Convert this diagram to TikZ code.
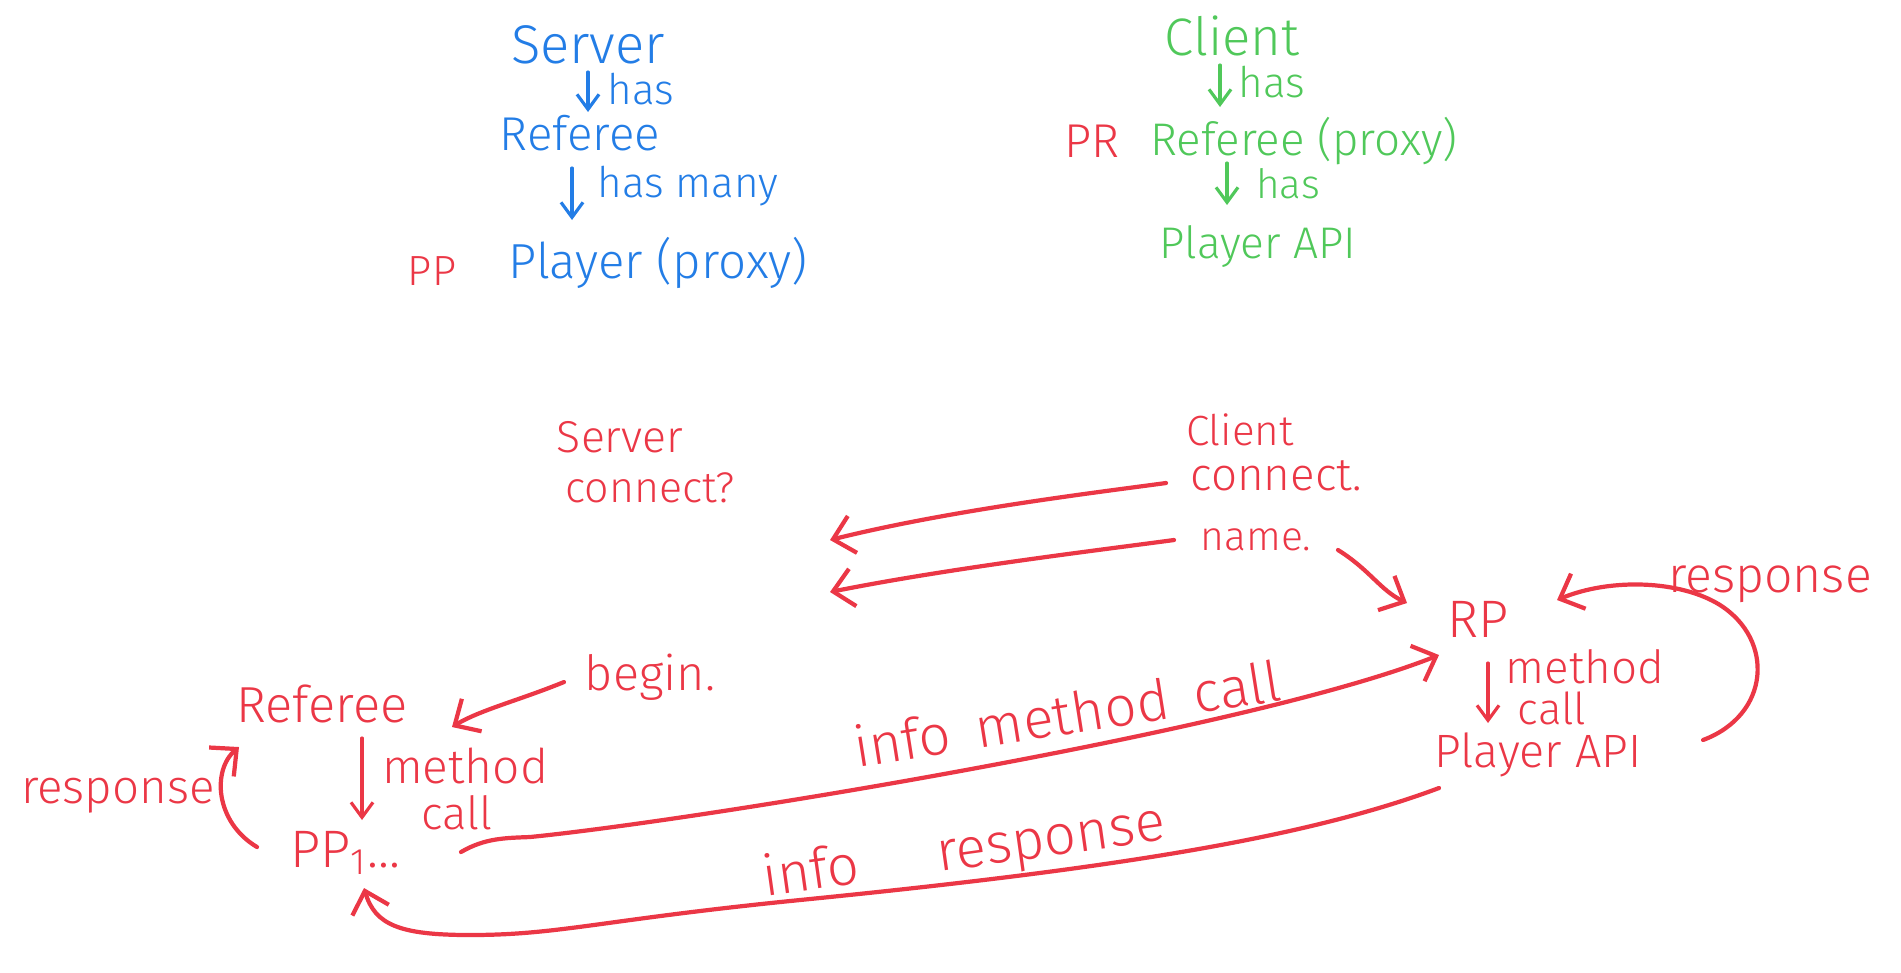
\documentclass[tikz,border=0pt]{standalone}
\usepackage{fontspec}
\setmainfont{Fira Sans Light}
\usetikzlibrary{arrows.meta}
\definecolor{cblue}{RGB}{35,125,230}
\definecolor{cgreen}{RGB}{80,200,90}
\definecolor{cred}{RGB}{235,55,70}
\newcommand{\fsz}[1]{\fontsize{#1}{#1}\selectfont}
\tikzset{
  txt/.style={inner sep=0pt, anchor=base, font=\fsz{#1}},
  bl/.style={txt=#1, text=cblue},
  gr/.style={txt=#1, text=cgreen},
  rd/.style={txt=#1, text=cred},
  smallarr/.style={line width=0.9pt, line cap=round, -{Straight Barb[length=1.5mm,width=2.2mm]}},
  bigarr/.style={draw=cred, line width=1.2pt, line cap=round, -{Straight Barb[length=2mm,width=3.8mm]}},
}
\begin{document}
\begin{tikzpicture}[x=0.01cm,y=-0.01cm]
\useasboundingbox (0,0) rectangle (1901,972);
% blue column
\node[bl=15.5] (bsrv) at (588,63) {Server};
\node[bl=12] (bhas1) at (641,104) {has};
\node[bl=13.5] (bref) at (580,150) {Referee};
\node[bl=12] (bhas2) at (688,197) {has many};
\node[rd=12] (pp) at (432,285) {PP};
\node[bl=14] (bply) at (658,278) {Player (proxy)};
% green column
\node[gr=15] (gcli) at (1232,55) {Client};
\node[gr=12] (ghas1) at (1272,97) {has};
\node[rd=13.5] (pr) at (1092,157) {PR};
\node[gr=13] (gref) at (1304,155) {Referee (proxy)};
\node[gr=11.5] (ghas2) at (1288,198) {has};
\node[gr=12.6] (gapi) at (1258,258) {Player API};
% red part
\node[rd=12.7] (rsrv) at (620,452) {Server};
\node[rd=12.2] (rscon) at (650,502) {connect?};
\node[rd=12] (rcli) at (1240,445) {Client};
\node[rd=13] (rccon) at (1276,490) {connect.};
\node[rd=11.6] (rname) at (1256,550) {name.};
\node[rd=15] (rp) at (1478,637) {RP};
\node[rd=14.2] (rresp2) at (1770,592) {response};
\node[rd=13] (rmeth2) at (1585,683) {method};
\node[rd=12.5] (rcall2) at (1552,724) {call};
\node[rd=13.3] (rapi) at (1538,767) {Player API};
\node[rd=13.8] (rbeg) at (650,690) {begin.};
\node[rd=14.4] (rref) at (322,722) {Referee};
\node[rd=13.6] (rmeth1) at (465,783) {method};
\node[rd=13] (rcall1) at (457,829) {call};
\node[rd=13.5] (rresp1) at (118,803) {response};
\node[rd=15] (pp1) at (345,867) {PP\textsubscript{1}...};
\node[rd=16, rotate=9] (limc) at (1070,734) {info\hspace{0.45em}method\hspace{0.45em}call};
\node[rd=16, rotate=8] (lir) at (966,868) {info\hspace{1.4em}response};
\coordinate (a1e) at (830,540);
\coordinate (a2e) at (830,592);
% small vertical arrows
\draw[smallarr, cblue] ([shift={(0,9)}]bsrv.base) -- ([shift={(8,-38)}]bref.base);
\draw[smallarr, cblue] ([shift={(-8,18)}]bref.base) -- ([shift={(-86,-58)}]bply.base);
\draw[smallarr, cgreen] ([shift={(-12,10)}]gcli.base) -- ([shift={(-84,-48)}]gref.base);
\draw[smallarr, cgreen] ([shift={(-77,8)}]gref.base) -- ([shift={(-31,-53)}]gapi.base);
\draw[smallarr, cred] ([shift={(40,16)}]rref.base) -- ([shift={(17,-47)}]pp1.base);
\draw[smallarr, cred] ([shift={(10,26)}]rp.base) -- ([shift={(-50,-44)}]rapi.base);
% red connectors
\draw[bigarr] ([shift={(-110,-7)}]rccon.base) .. controls (1100,492) and (950,510) .. (a1e);
\draw[bigarr] ([shift={(-82,-10)}]rname.base) .. controls (1100,550) and (950,568) .. (a2e);
\draw[bigarr] ([shift={(82,0)}]rname.base) .. controls (1370,570) and (1380,590) .. ([shift={(-71,-34)}]rp.base);
\draw[bigarr] ([shift={(-86,-8)}]rbeg.base) .. controls (520,700) and (480,710) .. ([shift={(130,5)}]rref.base);
\draw[bigarr] ([shift={(-88,-20)}]pp1.base) .. controls (215,822) and (212,770) .. ([shift={(-83,25)}]rref.base);
\draw[bigarr] ([shift={(116,-15)}]pp1.base) .. controls (485,838) and (505,838) .. (530,837)
   .. controls (700,820) and (1250,730) .. ([shift={(-39,18)}]rp.base);
\draw[bigarr] ([shift={(-99,21)}]rapi.base) .. controls (1300,840) and (1100,870) .. (800,900)
   .. controls (600,920) and (560,935) .. (470,935) .. controls (400,935) and (375,925) .. ([shift={(19,21)}]pp1.base);
\draw[bigarr] ([shift={(165,-27)}]rapi.base) .. controls (1770,715) and (1775,640) .. (1720,605)
   .. controls (1680,580) and (1610,578) .. ([shift={(79,-37)}]rp.base);
\end{tikzpicture}
\end{document}
